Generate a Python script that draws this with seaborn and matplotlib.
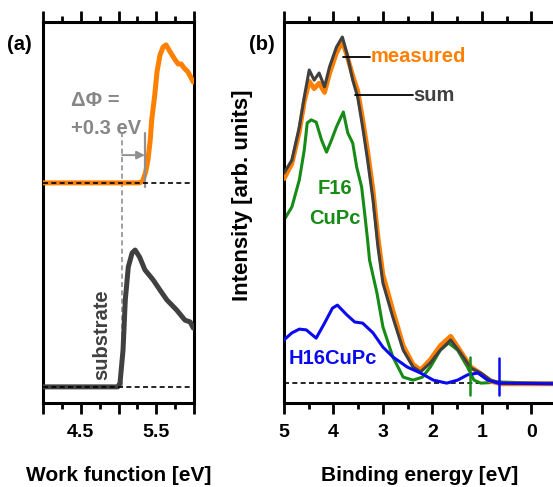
import seaborn as sns
import matplotlib.pyplot as plt
import pandas as pd
from matplotlib.ticker import FixedLocator, FixedFormatter, MultipleLocator

# panel (a): secondary electron cutoff, work function in eV
wf_orange_x = [4.0, 5.28, 5.32, 5.36, 5.39, 5.42, 5.44, 5.48, 5.51, 5.55, 5.59, 5.63,
               5.67, 5.71, 5.75, 5.79, 5.83, 5.87, 5.92, 5.99]
wf_orange_y = [57.9, 57.9, 58.4, 60.8, 64, 69.3, 74.7, 81.3, 87.5, 92, 94.1, 94.7,
               93.3, 92, 90.7, 89.6, 89.6, 88.5, 87.5, 84.8]
wf_grey_x = [4.0, 4.99, 5.02, 5.06, 5.09, 5.13, 5.18, 5.22, 5.28, 5.35, 5.46, 5.55,
             5.64, 5.77, 5.88, 5.95, 5.99]
wf_grey_y = [3.5, 3.5, 4.5, 13.3, 26.7, 35.5, 39.2, 40, 38.1, 34.7, 32, 29.3,
             26.7, 24, 21.3, 20.8, 19.2]
base_orange = 57.9
base_grey = 3.5
wf_substrate = 5.05
wf_shifted = 5.35

# panel (b): valence band, binding energy in eV
be_sum_x = [5.0, 4.84, 4.69, 4.59, 4.49, 4.39, 4.29, 4.18, 4.08, 3.94, 3.82, 3.73,
            3.61, 3.51, 3.41, 3.31, 3.20, 3.10, 3.0, 2.80, 2.59, 2.39, 2.24, 2.04,
            1.84, 1.63, 1.43, 1.22, 1.02, 0.82, 0.61, -0.5]
be_sum_y = [60.5, 64, 72.8, 80.8, 88, 85.3, 87.2, 83.5, 88.8, 94.1, 96.8, 92.5,
            85.3, 80.8, 72.8, 64, 53.3, 40.8, 31.2, 22.1, 13.3, 8.8, 7.5, 9.9,
            13.3, 16, 12.5, 8.5, 7.2, 5.3, 4.5, 4.5]
be_meas_x = be_sum_x
be_meas_y = [59, 63, 71.5, 79.5, 85, 83, 84.5, 82, 87, 92.5, 95.5, 92,
             86.5, 82.5, 75, 66.5, 56, 43.5, 33.5, 24, 14.5, 9.5, 8, 10.8,
             14.5, 17, 13, 8.8, 7, 5, 4.3, 4.3]
be_f16_x = [5.0, 4.84, 4.69, 4.59, 4.53, 4.45, 4.35, 4.24, 4.14, 4.04, 3.94, 3.80,
            3.71, 3.61, 3.53, 3.43, 3.37, 3.31, 3.27, 3.12, 3.0, 2.80, 2.59, 2.39,
            2.20, 2.04, 1.84, 1.67, 1.49, 1.29, 1.16, 1.02, 0.61, -0.5]
be_f16_y = [48, 51.5, 58.7, 66.7, 73.9, 74.7, 74.1, 69.3, 66.1, 69.3, 72.8, 76.8,
            71.2, 68.5, 62.1, 56.8, 49.9, 42.7, 37.3, 28.5, 19.5, 11.5, 6.1, 5.3,
            6.1, 8.8, 13.3, 15.2, 13.3, 8.8, 5.3, 4.5, 4.8, 4.3]
be_h16_x = [5.0, 4.96, 4.84, 4.69, 4.55, 4.35, 4.18, 4.02, 3.92, 3.73, 3.57, 3.41,
            3.20, 3.0, 2.80, 2.51, 2.24, 1.98, 1.71, 1.49, 1.29, 1.08, 0.88, 0.67, -0.5]
be_h16_y = [16, 16.5, 17.9, 18.9, 18.7, 16.5, 20.5, 24.5, 25.3, 22.7, 20.8, 20.5,
            17.9, 14.1, 11.5, 8.8, 7.2, 5.3, 4.5, 5.3, 6.7, 7.2, 5.3, 4.5, 4.3]
be_base = 4.5
onset_f16 = 1.24
onset_h16 = 0.65

orange = "#ff8000"
dark = "#404040"
green = "#168c16"
blue = "#0a0af0"
grey_txt = "#878787"

sns.set_style("ticks")
plt.rcParams["font.family"] = ["Liberation Sans", "DejaVu Sans"]
plt.rcParams["font.weight"] = "bold"
plt.rcParams["text.color"] = "black"
plt.rcParams["axes.labelcolor"] = "black"
plt.rcParams["xtick.color"] = "black"
FS = 14.5     # annotations
FS_LAB = 15   # axis labels
FS_TICK = 14

fig = plt.figure(figsize=(5.53, 4.87), dpi=100)
ax1 = fig.add_axes([43 / 553, 84 / 487, 151 / 553, 381 / 487])
ax2 = fig.add_axes([284 / 553, 84 / 487, 272 / 553, 381 / 487])

# ---- (a)
sns.lineplot(x=wf_orange_x, y=wf_orange_y, ax=ax1, color=orange, lw=3.6,
             sort=False, estimator=None, zorder=3)
sns.lineplot(x=wf_grey_x, y=wf_grey_y, ax=ax1, color=dark, lw=3.6,
             sort=False, estimator=None, zorder=3)
ax1.axhline(base_orange, color="black", lw=1.2, ls=(0, (3, 2)), zorder=5)
ax1.axhline(base_grey, color="black", lw=1.2, ls=(0, (3, 2)), zorder=5)
ax1.plot([wf_substrate, wf_substrate], [base_grey, 71.2], color="#909090", lw=1.2,
         ls=(0, (3, 2)), zorder=2)
ax1.plot([wf_shifted, wf_shifted], [56.8, 71.2], color="#909090", lw=1.6, zorder=4)
ax1.annotate("", xy=(wf_shifted, 65.3), xytext=(wf_substrate, 65.3),
             arrowprops=dict(arrowstyle="-|>", color="#909090", lw=1.4,
                             shrinkA=0, shrinkB=0, mutation_scale=12))
ax1.text(4.37, 80, "ΔΦ =", color=grey_txt, fontsize=FS, fontweight="bold",
         va="center", ha="left")
ax1.text(4.37, 72.5, "+0.3 eV", color=grey_txt, fontsize=FS, fontweight="bold",
         va="center", ha="left")
ax1.text(4.78, 17.3, "substrate", color=dark, fontsize=FS, fontweight="bold",
         rotation=90, va="center", ha="center")
ax1.set_xlim(4.0, 6.0)
ax1.set_ylim(-0.8, 100.8)
ax1.xaxis.set_major_locator(FixedLocator([4.0, 4.5, 5.0, 5.5, 6.0]))
ax1.xaxis.set_major_formatter(FixedFormatter(["", "4.5", "", "5.5", ""]))
ax1.xaxis.set_minor_locator(MultipleLocator(0.25))
ax1.set_xlabel("Work function [eV]", fontsize=FS_LAB, fontweight="bold")
ax1.xaxis.set_label_coords(0.5, -0.19)
ax1.xaxis.label.set_va("center")
ax1.text(-0.155, 0.94, "(a)", transform=ax1.transAxes, fontsize=FS,
         fontweight="bold", ha="center", va="center")

# ---- (b)
sns.lineplot(x=be_meas_x, y=be_meas_y, ax=ax2, color=orange, lw=3.4,
             sort=False, estimator=None, zorder=3)
sns.lineplot(x=be_sum_x, y=be_sum_y, ax=ax2, color=dark, lw=2.2,
             sort=False, estimator=None, zorder=4)
sns.lineplot(x=be_f16_x, y=be_f16_y, ax=ax2, color=green, lw=2.2,
             sort=False, estimator=None, zorder=2)
sns.lineplot(x=be_h16_x, y=be_h16_y, ax=ax2, color=blue, lw=2.2,
             sort=False, estimator=None, zorder=5)
ax2.plot([5.0, -0.5], [be_base, be_base], color="black", lw=1.2, ls=(0, (3, 2)), zorder=1)
ax2.plot([onset_f16, onset_f16], [1.3, 11.5], color=green, lw=1.8, zorder=6)
ax2.plot([onset_h16, onset_h16], [1.3, 11.2], color=blue, lw=1.8, zorder=6)
ax2.plot([3.81, 3.26], [91.5, 91.5], color="black", lw=1.3, zorder=6)
ax2.text(3.25, 91.5, "measured", color=orange, fontsize=FS, fontweight="bold",
         va="center", ha="left")
ax2.plot([3.56, 2.39], [81.3, 81.3], color="black", lw=1.3, zorder=6)
ax2.text(2.38, 81.3, "sum", color=dark, fontsize=FS, fontweight="bold",
         va="center", ha="left")
ax2.text(3.97, 56.5, "F16", color=green, fontsize=FS, fontweight="bold",
         va="center", ha="center")
ax2.text(3.97, 48.5, "CuPc", color=green, fontsize=FS, fontweight="bold",
         va="center", ha="center")
ax2.text(4.9, 11.2, "H16CuPc", color=blue, fontsize=FS, fontweight="bold",
         va="center", ha="left")
ax2.set_xlim(5.0, -0.5)
ax2.set_ylim(-0.8, 100.8)
ax2.xaxis.set_major_locator(FixedLocator([5, 4, 3, 2, 1, 0]))
ax2.xaxis.set_major_formatter(FixedFormatter(["5", "4", "3", "2", "1", "0"]))
ax2.xaxis.set_minor_locator(MultipleLocator(0.5))
ax2.set_xlabel("Binding energy [eV]", fontsize=FS_LAB, fontweight="bold")
ax2.xaxis.set_label_coords(0.5, -0.19)
ax2.xaxis.label.set_va("center")
ax2.set_ylabel("Intensity [arb. units]", fontsize=16, fontweight="bold")
ax2.yaxis.set_label_coords(-0.154, 0.546)
ax2.yaxis.label.set_va("center")
ax2.text(-0.08, 0.94, "(b)", transform=ax2.transAxes, fontsize=FS,
         fontweight="bold", ha="center", va="center")

for ax in (ax1, ax2):
    for s in ax.spines.values():
        s.set_linewidth(2.2)
        s.set_color("black")
    ax.set_yticks([])
    ax.tick_params(axis="x", which="both", direction="out", top=True, bottom=True,
                   width=2.0, color="black", labelcolor="black", labelsize=FS_TICK, pad=7)
    ax.tick_params(axis="x", which="major", length=8)
    ax.tick_params(axis="x", which="minor", length=4.5)
    for lab in ax.get_xticklabels():
        lab.set_fontweight("bold")

fig.savefig("out.png", dpi=100)
